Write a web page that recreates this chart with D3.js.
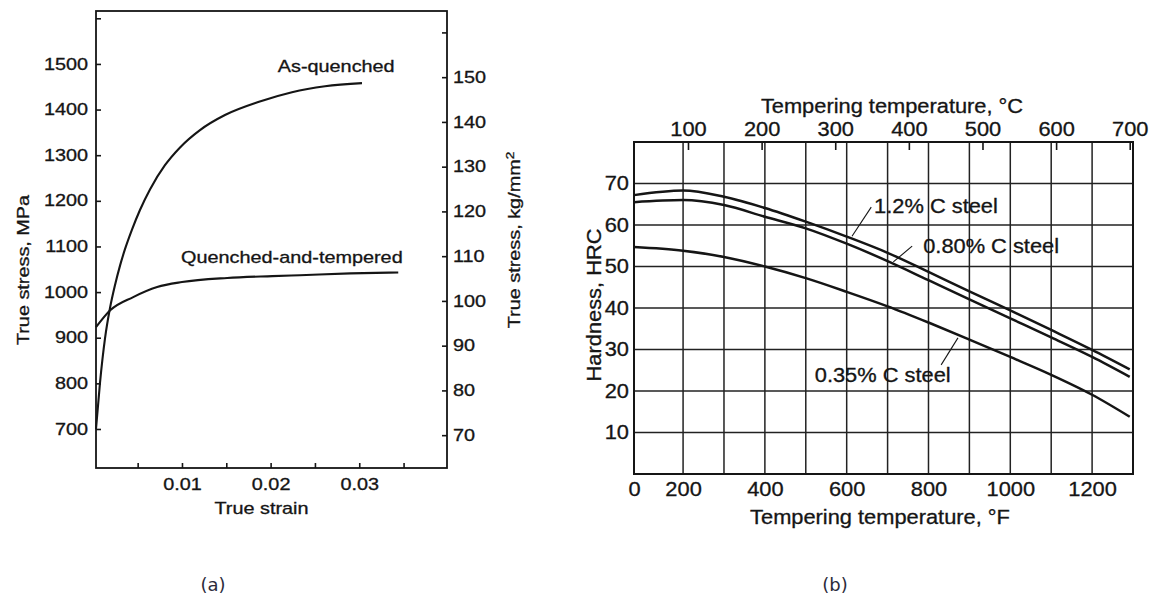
<!DOCTYPE html>
<html>
<head>
<meta charset="utf-8">
<script src="https://cdn.jsdelivr.net/npm/d3@7"></script>
<style>
  body { margin: 0; background: #fff; }
  svg { display: block; }
</style>
</head>
<body>
<div id="chart-area"></div>
<script>
// (a) true stress vs true strain
var asQuenched = [
  [0.0003, 700], [0.00075, 801], [0.00132, 899], [0.00188, 965], [0.00244, 1015],
  [0.00301, 1058], [0.00357, 1094], [0.00436, 1137], [0.00526, 1180], [0.00639, 1225],
  [0.00808, 1278], [0.00978, 1317], [0.01203, 1355], [0.01485, 1388], [0.01869, 1417],
  [0.02241, 1438], [0.02614, 1451], [0.03031, 1458]
];
var quenchedTempered = [
  [0.0003, 923], [0.0019, 960], [0.0045, 989], [0.0072, 1011], [0.0100, 1022],
  [0.0151, 1031], [0.0202, 1035], [0.0233, 1037], [0.0290, 1041], [0.0344, 1043]
];
var strainTicks = [0.005, 0.01, 0.015, 0.02, 0.025, 0.03, 0.035];
var mpaTicks = [700, 800, 900, 1000, 1100, 1200, 1300, 1400, 1500, 1600];
var kgTicks = [70, 80, 90, 100, 110, 120, 130, 140, 150, 160];

// (b) hardness vs tempering temperature (deg F)
var steel12 = [
  [80, 67.2], [200, 68.3], [300, 66.8], [400, 64.1], [500, 60.8], [600, 57.2],
  [700, 53.3], [800, 48.7], [900, 44.0], [1000, 39.4], [1100, 34.7], [1200, 29.9], [1292, 25.2]
];
var steel080 = [
  [80, 65.5], [200, 66.0], [300, 64.8], [400, 62.0], [500, 59.2], [600, 55.5],
  [700, 51.3], [800, 46.7], [900, 42.1], [1000, 37.5], [1100, 32.9], [1200, 28.2], [1292, 23.4]
];
var steel035 = [
  [80, 54.7], [200, 53.8], [300, 52.3], [400, 50.0], [500, 47.2], [600, 43.9],
  [700, 40.4], [800, 36.5], [900, 32.4], [1000, 28.2], [1100, 23.9], [1200, 19.1], [1292, 13.8]
];
var fTicks = [80, 200, 400, 600, 800, 1000, 1200];
var fTickLabels = ["0", "200", "400", "600", "800", "1000", "1200"];
var fGrid = [200, 300, 400, 500, 600, 700, 800, 900, 1000, 1100, 1200];
var cTicks = [100, 200, 300, 400, 500, 600, 700];
var hrcTicks = [10, 20, 30, 40, 50, 60, 70];

var FONT = "'Liberation Sans', Arial, Helvetica, sans-serif";
var INK = "#151515";

var svg = d3.select("#chart-area")
            .append("svg")
            .attr("width", 1158)
            .attr("height", 601);

// the lettering of the source is wider than Arial, stretch it sideways
function stretch(sel, sx) {
    sel.each(function() {
        var t = d3.select(this);
        var x = +t.attr("x") || 0, y = +t.attr("y") || 0;
        t.attr("x", 0).attr("y", 0)
         .attr("transform", "translate(" + x + "," + y + ") scale(" + sx + ",1)");
    });
}

function ink(sel, size) {
    sel.attr("fill", INK).attr("stroke", INK).attr("stroke-width", 0.3)
       .attr("font-family", FONT).attr("font-size", size);
}

function styleAxis(g, size) {
    g.select(".domain").remove();
    g.selectAll("line").attr("stroke", INK).attr("stroke-width", 1.6);
    ink(g.selectAll("text"), size);
}

/* ---------------- chart (a) ---------------- */
var A = { left: 96, right: 447, top: 11, bottom: 468, sx: 1.24, fs: 16 };

var xA = d3.scaleLinear().domain([0.0003, 0.0399]).range([A.left, A.right]);
var yA = d3.scaleLinear().domain([614.5, 1616]).range([A.bottom, A.top]);
var yA2 = d3.scaleLinear().domain([614.5 / 9.80665, 1616 / 9.80665]).range([A.bottom, A.top]);

var ga = svg.append("g");

var axL = ga.append("g")
    .attr("transform", "translate(" + A.left + ",0)")
    .call(d3.axisLeft(yA).tickValues(mpaTicks).tickSize(-5).tickPadding(8)
        .tickFormat((d) => d > 1500 ? "" : d));
styleAxis(axL, A.fs);
stretch(axL.selectAll("text"), A.sx);

var axR = ga.append("g")
    .attr("transform", "translate(" + A.right + ",0)")
    .call(d3.axisRight(yA2).tickValues(kgTicks).tickSize(-5).tickPadding(6)
        .tickFormat((d) => d > 150 ? "" : d));
styleAxis(axR, A.fs);
stretch(axR.selectAll("text"), A.sx);

var axB = ga.append("g")
    .attr("transform", "translate(0," + A.bottom + ")")
    .call(d3.axisBottom(xA).tickValues(strainTicks).tickSize(-5).tickPadding(11)
        .tickFormat((d) => [0.01, 0.02, 0.03].indexOf(d) >= 0 ? d3.format(".2f")(d) : ""));
styleAxis(axB, A.fs);
stretch(axB.selectAll("text"), A.sx);

ga.append("rect")
    .attr("x", A.left).attr("y", A.top)
    .attr("width", A.right - A.left).attr("height", A.bottom - A.top)
    .attr("fill", "none").attr("stroke", INK).attr("stroke-width", 1.8);

var lineA = d3.line()
    .x((d) => xA(d[0]))
    .y((d) => yA(d[1]))
    .curve(d3.curveMonotoneX);

ga.selectAll("path.curve")
    .data([asQuenched, quenchedTempered])
    .enter()
    .append("path")
    .attr("class", "curve")
    .attr("d", lineA)
    .attr("fill", "none")
    .attr("stroke", INK)
    .attr("stroke-width", 2.1);

var labelsA = [
    { text: "As-quenched", x: 0.0274, y: 1482 },
    { text: "Quenched-and-tempered", x: 0.0224, y: 1064 }
];
ga.selectAll("text.lab")
    .data(labelsA)
    .enter()
    .append("text")
    .attr("class", "lab")
    .attr("x", (d) => xA(d.x))
    .attr("y", (d) => yA(d.y))
    .attr("text-anchor", "middle")
    .text((d) => d.text)
    .call(ink, A.fs);
stretch(ga.selectAll("text.lab"), A.sx);

// axis titles
ga.append("text")
    .attr("transform", "translate(29,270) rotate(-90) scale(" + A.sx + ",1)")
    .attr("text-anchor", "middle")
    .text("True stress, MPa")
    .call(ink, A.fs);

var rt = ga.append("text")
    .attr("transform", "translate(520,240) rotate(-90) scale(" + A.sx + ",1)")
    .attr("text-anchor", "middle")
    .call(ink, A.fs);
rt.append("tspan").text("True stress, kg/mm");
rt.append("tspan").attr("dy", -6).attr("font-size", 11).text("2");

ga.append("text")
    .attr("class", "title")
    .attr("x", (A.left + A.right) / 2 - 10).attr("y", 514)
    .attr("text-anchor", "middle")
    .text("True strain")
    .call(ink, A.fs);
stretch(ga.selectAll("text.title"), A.sx);

/* ---------------- chart (b) ---------------- */
var B = { left: 634, right: 1133, top: 142, bottom: 474, sx: 1.12, fs: 19.5 };

var xB = d3.scaleLinear().domain([80, 1300]).range([B.left, B.right]);
var yB = d3.scaleLinear().domain([0, 80]).range([B.bottom, B.top]);

var gb = svg.append("g");

// grid
gb.selectAll("line.vgrid")
    .data(fGrid)
    .enter()
    .append("line")
    .attr("class", "vgrid")
    .attr("x1", (d) => xB(d)).attr("x2", (d) => xB(d))
    .attr("y1", B.top).attr("y2", B.bottom)
    .attr("stroke", "#222").attr("stroke-width", 1.5);

gb.selectAll("line.hgrid")
    .data(hrcTicks)
    .enter()
    .append("line")
    .attr("class", "hgrid")
    .attr("x1", B.left).attr("x2", B.right)
    .attr("y1", (d) => yB(d)).attr("y2", (d) => yB(d))
    .attr("stroke", "#222").attr("stroke-width", 1.5);

var bxL = gb.append("g")
    .attr("transform", "translate(" + B.left + ",0)")
    .call(d3.axisLeft(yB).tickValues(hrcTicks).tickSize(0).tickPadding(5));
styleAxis(bxL, B.fs);
stretch(bxL.selectAll("text"), B.sx);

var bxB = gb.append("g")
    .attr("transform", "translate(0," + B.bottom + ")")
    .call(d3.axisBottom(xB).tickValues(fTicks).tickSize(0).tickPadding(8)
        .tickFormat((d, i) => fTickLabels[i]));
styleAxis(bxB, B.fs);
stretch(bxB.selectAll("text"), B.sx);

// top axis in deg C, same span as the deg F scale
var xC = d3.scaleLinear().domain([(80 - 32) * 5 / 9, (1300 - 32) * 5 / 9]).range([B.left, B.right]);
var bxT = gb.append("g")
    .attr("transform", "translate(0," + B.top + ")")
    .call(d3.axisTop(xC).tickValues(cTicks).tickSize(-8).tickPadding(6));
styleAxis(bxT, B.fs);
stretch(bxT.selectAll("text"), B.sx);

gb.append("rect")
    .attr("x", B.left).attr("y", B.top)
    .attr("width", B.right - B.left).attr("height", B.bottom - B.top)
    .attr("fill", "none").attr("stroke", INK).attr("stroke-width", 2);

var lineB = d3.line()
    .x((d) => xB(d[0]))
    .y((d) => yB(d[1]))
    .curve(d3.curveMonotoneX);

gb.selectAll("path.curve")
    .data([steel12, steel080, steel035])
    .enter()
    .append("path")
    .attr("class", "curve")
    .attr("d", lineB)
    .attr("fill", "none")
    .attr("stroke", INK)
    .attr("stroke-width", 2.5);

// curve labels with leader lines
var labelsB = [
    { text: "1.2% C steel", x: 667, y: 62.9, from: [613, 57.3], to: [660, 64.3] },
    { text: "0.80% C steel", x: 787, y: 53.3, from: [714, 51.1], to: [760, 54.9] },
    { text: "0.35% C steel", x: 522, y: 22.2, from: [831, 26.3], to: [872, 32.8] }
];
gb.selectAll("line.leader")
    .data(labelsB)
    .enter()
    .append("line")
    .attr("class", "leader")
    .attr("x1", (d) => xB(d.from[0])).attr("y1", (d) => yB(d.from[1]))
    .attr("x2", (d) => xB(d.to[0])).attr("y2", (d) => yB(d.to[1]))
    .attr("stroke", INK).attr("stroke-width", 1.1);

gb.selectAll("text.lab")
    .data(labelsB)
    .enter()
    .append("text")
    .attr("class", "lab")
    .attr("x", (d) => xB(d.x))
    .attr("y", (d) => yB(d.y))
    .text((d) => d.text)
    .call(ink, B.fs);
stretch(gb.selectAll("text.lab"), B.sx);

gb.append("text")
    .attr("class", "title")
    .attr("x", 892).attr("y", 113)
    .attr("text-anchor", "middle")
    .text("Tempering temperature, \u00B0C")
    .call(ink, B.fs);

gb.append("text")
    .attr("class", "title")
    .attr("x", 880).attr("y", 524)
    .attr("text-anchor", "middle")
    .text("Tempering temperature, \u00B0F")
    .call(ink, B.fs);
stretch(gb.selectAll("text.title"), B.sx);

gb.append("text")
    .attr("transform", "translate(601,305) rotate(-90) scale(" + B.sx + ",1)")
    .attr("text-anchor", "middle")
    .text("Hardness, HRC")
    .call(ink, B.fs);

// panel captions
svg.selectAll("text.caption")
    .data([{ t: "(a)", x: 213 }, { t: "(b)", x: 835 }])
    .enter()
    .append("text")
    .attr("class", "caption")
    .attr("x", (d) => d.x).attr("y", 591)
    .attr("text-anchor", "middle")
    .attr("font-family", "'DejaVu Sans', Verdana, sans-serif")
    .attr("font-size", 18).attr("fill", "#2b2b3a")
    .text((d) => d.t);
</script>
</body>
</html>
